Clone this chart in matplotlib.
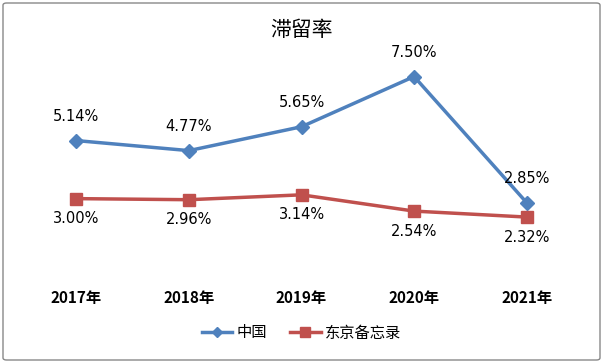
import matplotlib.pyplot as plt
from matplotlib.patches import FancyBboxPatch

plt.rcParams['font.family'] = ['Noto Sans CJK SC', 'DejaVu Sans']

# 数据
years = ['2017年', '2018年', '2019年', '2020年', '2021年']
china = [5.14, 4.77, 5.65, 7.50, 2.85]
tokyo = [3.00, 2.96, 3.14, 2.54, 2.32]

fig = plt.figure(figsize=(6.03, 3.63), dpi=100)
ax = fig.add_axes([20 / 603, 83 / 363, 563 / 603, 217 / 363])

x = list(range(len(years)))
ax.plot(x, china, color='#4F81BD', lw=2.5, marker='D', ms=7, label='中国')
ax.plot(x, tokyo, color='#C0504D', lw=2.5, marker='s', ms=9, label='东京备忘录')

# 数据标签
for i in x:
    ax.annotate(f'{china[i]:.2f}%', (i, china[i]), xytext=(0, 12), textcoords='offset points',
                ha='center', va='bottom', fontsize=10.5, family='DejaVu Sans')
    ax.annotate(f'{tokyo[i]:.2f}%', (i, tokyo[i]), xytext=(0, -9), textcoords='offset points',
                ha='center', va='top', fontsize=10.5, family='DejaVu Sans')

ax.set_xlim(-0.5, 4.5)
ax.set_ylim(0, 8)
ax.set_xticks(x)
ax.set_xticklabels(years, fontsize=11, fontweight='bold')
ax.tick_params(axis='x', length=0, pad=7)
ax.set_yticks([])
for s in ax.spines.values():
    s.set_visible(False)

fig.text(0.5, 1 - 30 / 363, '滞留率', ha='center', va='center', fontsize=15)
leg = fig.legend(loc='center', bbox_to_anchor=(0.5, 1 - 333 / 363), ncol=2, frameon=False,
                 fontsize=11, handlelength=2.0, columnspacing=1.5, handletextpad=0.3,
                 markerscale=0.8)

border = FancyBboxPatch((3 / 603, 3 / 363), 597 / 603, 357 / 363, boxstyle='round,pad=0,rounding_size=0.006',
                        transform=fig.transFigure, fill=False, edgecolor='#888888', lw=1)
fig.patches.append(border)

fig.savefig('out.png', dpi=100)
